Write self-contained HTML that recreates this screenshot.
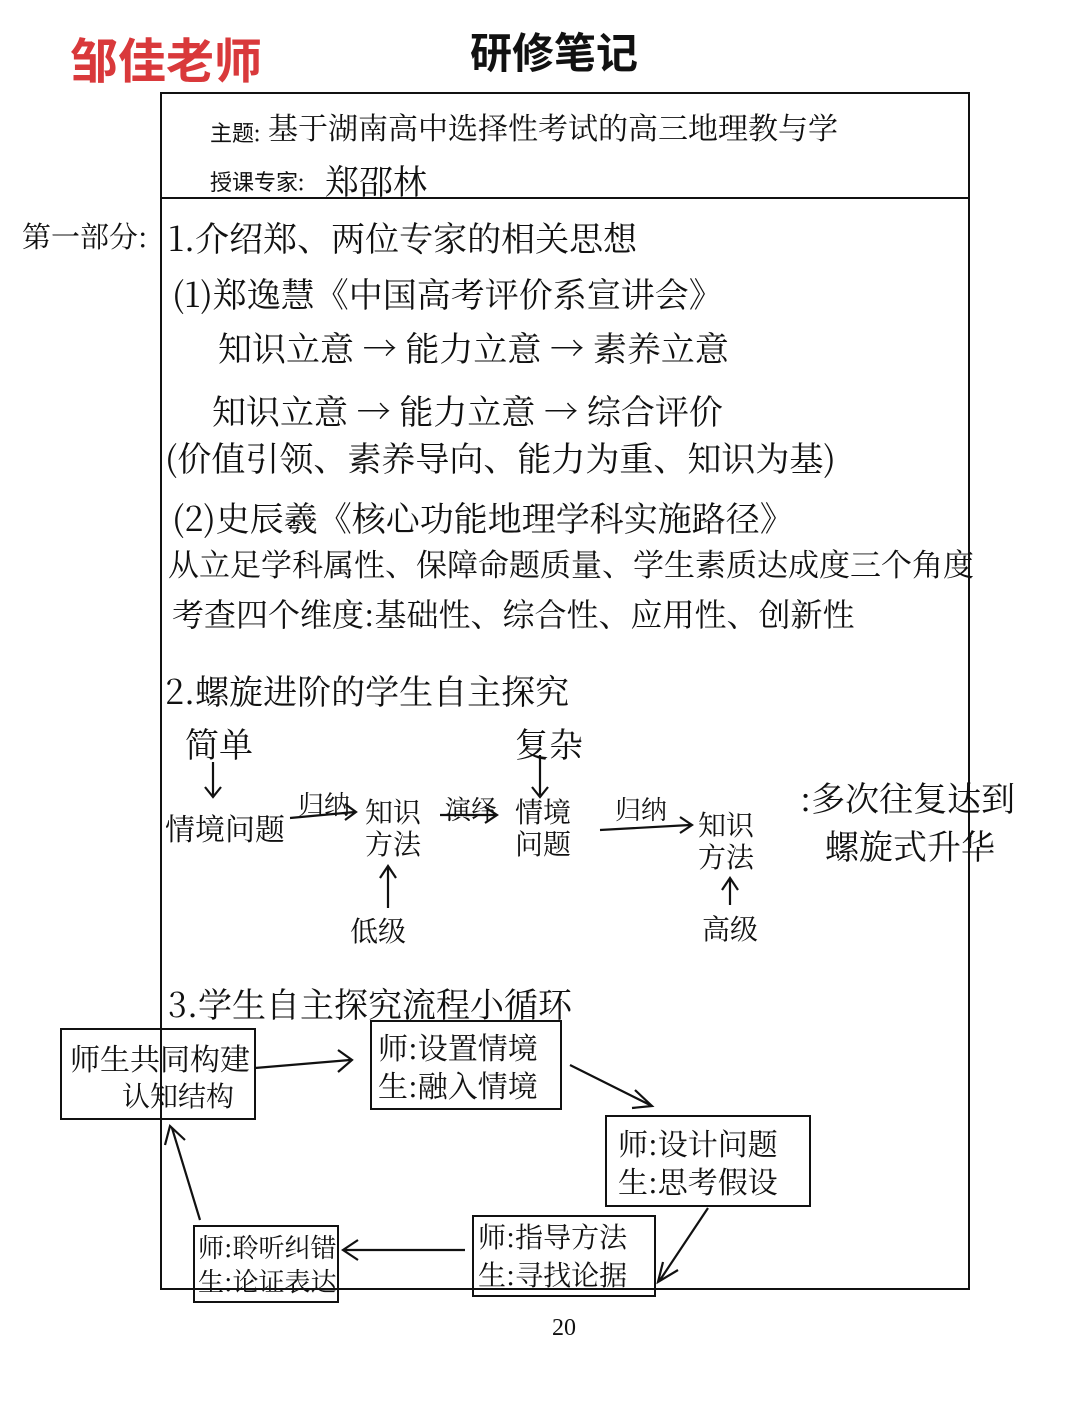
<!DOCTYPE html>
<html><head><meta charset="utf-8"><style>
body{margin:0;background:#fff;}
#c{position:relative;width:1080px;height:1426px;overflow:hidden;background:#fff;font-family:"Liberation Sans","Noto Sans CJK SC",sans-serif;color:#111;}
.t{position:absolute;white-space:nowrap;font-family:"Noto Serif CJK SC","Noto Sans CJK SC",serif;}
.h{font-size:34px;}
.b{position:absolute;border:2.5px solid #111;}
</style></head><body><div id="c">
<div class="t" style="left:70px;top:22px;font-size:48px;font-weight:bold;color:#d9393b;font-family:'Noto Sans CJK SC',sans-serif;">邹佳老师</div>
<div class="t" style="left:470px;top:20px;font-size:42px;font-weight:bold;font-family:'Noto Sans CJK SC',sans-serif;">研修笔记</div>
<div class="b" style="left:160px;top:92px;width:806px;height:1194px;border-width:2px;"></div>
<div style="position:absolute;left:160px;top:197px;width:808px;height:2px;background:#111"></div>
<div class="t" style="left:210px;top:116px;font-size:22px;font-family:'Noto Sans CJK SC',sans-serif;">主题:</div>
<div class="t h" style="left:268px;top:104px;font-size:30px;">基于湖南高中选择性考试的高三地理教与学</div>
<div class="t" style="left:210px;top:165px;font-size:22px;font-family:'Noto Sans CJK SC',sans-serif;">授课专家:</div>
<div class="t h" style="left:325px;top:155px;">郑邵林</div>
<div class="t h" style="left:22px;top:215px;font-size:29px;">第一部分:</div>
<div class="t h" style="left:168px;top:212px;">1.介绍郑、两位专家的相关思想</div>
<div class="t h" style="left:172px;top:268px;">(1)郑逸慧《中国高考评价系宣讲会》</div>
<div class="t h" style="left:218px;top:322px;">知识立意 → 能力立意 → 素养立意</div>
<div class="t h" style="left:212px;top:385px;">知识立意 → 能力立意 → 综合评价</div>
<div class="t h" style="left:165px;top:432px;">(价值引领、素养导向、能力为重、知识为基)</div>
<div class="t h" style="left:172px;top:492px;">(2)史辰羲《核心功能地理学科实施路径》</div>
<div class="t h" style="left:168px;top:540px;font-size:31px;">从立足学科属性、保障命题质量、学生素质达成度三个角度</div>
<div class="t h" style="left:172px;top:590px;font-size:32px;">考查四个维度:基础性、综合性、应用性、创新性</div>
<div class="t h" style="left:165px;top:665px;">2.螺旋进阶的学生自主探究</div>
<div class="t h" style="left:185px;top:718px;">简单</div>
<div class="t h" style="left:515px;top:718px;">复杂</div>
<div class="t" style="left:165px;top:805px;font-size:30px;">情境问题</div>
<div class="t" style="left:298px;top:785px;font-size:26px;">归纳</div>
<div class="t" style="left:365px;top:795px;font-size:28px;line-height:32px;">知识<br>方法</div>
<div class="t" style="left:445px;top:790px;font-size:26px;">演绎</div>
<div class="t" style="left:515px;top:795px;font-size:28px;line-height:32px;">情境<br>问题</div>
<div class="t" style="left:615px;top:790px;font-size:26px;">归纳</div>
<div class="t" style="left:698px;top:808px;font-size:28px;line-height:32px;">知识<br>方法</div>
<div class="t" style="left:350px;top:910px;font-size:28px;">低级</div>
<div class="t" style="left:702px;top:908px;font-size:28px;">高级</div>
<div class="t h" style="left:800px;top:772px;">:多次往复达到</div>
<div class="t h" style="left:825px;top:820px;">螺旋式升华</div>
<div class="t h" style="left:168px;top:978px;">3.学生自主探究流程小循环</div>
<div class="b" style="left:60px;top:1028px;width:192px;height:88px;"></div>
<div class="t" style="left:70px;top:1035px;font-size:30px;">师生共同构建</div>
<div class="t" style="left:122px;top:1075px;font-size:28px;">认知结构</div>
<div class="b" style="left:370px;top:1020px;width:188px;height:86px;"></div>
<div class="t" style="left:378px;top:1024px;font-size:30px;">师:设置情境</div>
<div class="t" style="left:378px;top:1062px;font-size:30px;">生:融入情境</div>
<div class="b" style="left:605px;top:1115px;width:202px;height:88px;"></div>
<div class="t" style="left:618px;top:1120px;font-size:30px;">师:设计问题</div>
<div class="t" style="left:618px;top:1158px;font-size:30px;">生:思考假设</div>
<div class="b" style="left:472px;top:1215px;width:180px;height:78px;"></div>
<div class="t" style="left:478px;top:1216px;font-size:28px;">师:指导方法</div>
<div class="t" style="left:478px;top:1254px;font-size:28px;">生:寻找论据</div>
<div class="b" style="left:193px;top:1225px;width:142px;height:74px;"></div>
<div class="t" style="left:198px;top:1228px;font-size:26px;">师:聆听纠错</div>
<div class="t" style="left:198px;top:1262px;font-size:26px;">生:论证表达</div>
<svg style="position:absolute;left:0;top:0" width="1080" height="1426" fill="none" stroke="#111" stroke-width="2.2">
<path d="M213 762 V795 M205 787 L213 797 L221 787"/>
<path d="M540 755 V795 M532 787 L540 797 L548 787"/>
<path d="M290 818 L355 812 M345 804 L356 812 L345 820"/>
<path d="M440 815 L495 815 M485 807 L497 815 L485 823"/>
<path d="M600 830 L690 825 M680 817 L692 825 L680 833"/>
<path d="M388 908 V868 M380 878 L388 866 L396 878"/>
<path d="M730 905 V880 M722 890 L730 878 L738 890"/>
<path d="M255 1068 L350 1060 M338 1050 L352 1060 L338 1072"/>
<path d="M570 1065 L650 1105 M635 1090 L652 1106 L632 1108"/>
<path d="M708 1208 L660 1280 M663 1262 L658 1282 L678 1270"/>
<path d="M465 1250 L345 1250 M358 1240 L343 1250 L358 1260"/>
<path d="M200 1220 L172 1128 M165 1145 L170 1126 L185 1140"/>
</svg>
<div class="t" style="left:552px;top:1315px;font-size:24px;font-family:'Liberation Serif',serif;">20</div>
</div></body></html>
